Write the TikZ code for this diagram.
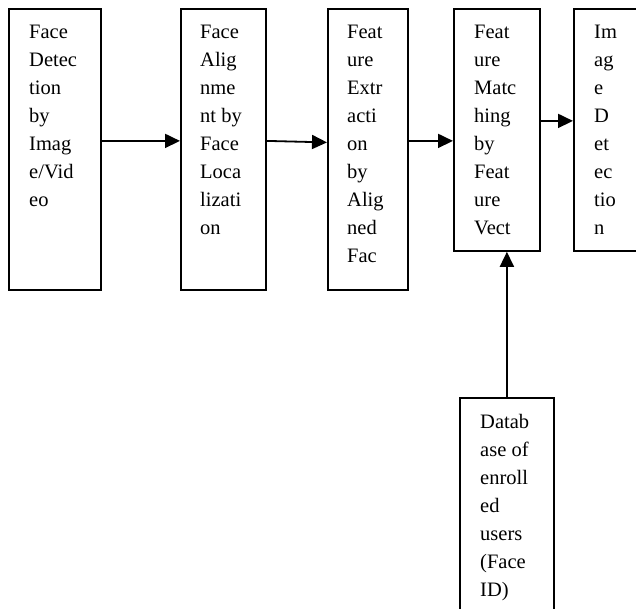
\documentclass[tikz,border=0pt]{standalone}
\usepackage{fontspec}
\setmainfont{Liberation Serif}
\usetikzlibrary{
  arrows.meta,
  positioning
}
\tikzset{
  stage/.style={draw, line width=1.8pt, anchor=north west, inner sep=0pt},
  words/.style={anchor=north west, inner sep=0pt, align=left,
    font=\fontsize{20.5}{28}\selectfont},
  flow/.style={line width=1.8pt, -{Triangle[length=15pt,width=14pt]}}
}

\begin{document}
\begin{tikzpicture}[x=1pt, y=-1pt]
  \def\Ytop{8};
  \def\Ytxt{24.6};
  \def\Hlong{281};
  \def\Hshort{242};
  \useasboundingbox (0,0) rectangle (636,608);
  \clip (0,0) rectangle (636,608);

         % stages of the pipeline
         \node[stage, minimum width=92pt, minimum height=\Hlong pt] (detect) at (8,\Ytop) {};
         \node[words] (detect text) at (29,\Ytxt) {Face\\Detec\\tion\\by\\Imag\\e/Vid\\eo};
         \node[stage, minimum width=85pt, minimum height=\Hlong pt] (localize) at (180,\Ytop) {};
         \node[words] (localize text) at (200,\Ytxt) {Face\\Alig\\nme\\nt by\\Face\\Loca\\lizati\\on};
         \node[stage, minimum width=80pt, minimum height=\Hlong pt] (extract) at (327,\Ytop) {};
         \node[words] (extract text) at (347,\Ytxt) {Feat\\ure\\Extr\\acti\\on\\by\\Alig\\ned\\Fac};
         \node[stage, minimum width=86pt, minimum height=\Hshort pt] (matching) at (453,\Ytop) {};
         \node[words] (matching text) at (474,\Ytxt) {Feat\\ure\\Matc\\hing\\by\\Feat\\ure\\Vect};
         \node[stage, minimum width=90pt, minimum height=\Hshort pt] (result) at (573,\Ytop) {};
         \node[words] (result text) at (594,\Ytxt) {Im\\ag\\e\\D\\et\\ec\\tio\\n};

         % enrolled users
         \node[stage, minimum width=94pt, minimum height=250pt] (database) at (459,397) {};
         \node[words] (database text) at (480,414) {Datab\\ase of\\enroll\\ed\\users\\(Face\\ID)};

	\draw[flow] ([yshift=8.5pt]detect.east) -- ([yshift=8.5pt]localize.west);
	\draw[flow] ([yshift=8.5pt]localize.east) -- ([yshift=7pt]extract.west);
	\draw[flow] ([yshift=8.5pt]extract.east) -- ([yshift=-11pt]matching.west);
	\draw[flow] ([yshift=9pt]matching.east) -- ([yshift=9pt]result.west);
	\draw[flow] (database.north) -- (database.north |- matching.south);  % lookup

\end{tikzpicture}
\end{document}
